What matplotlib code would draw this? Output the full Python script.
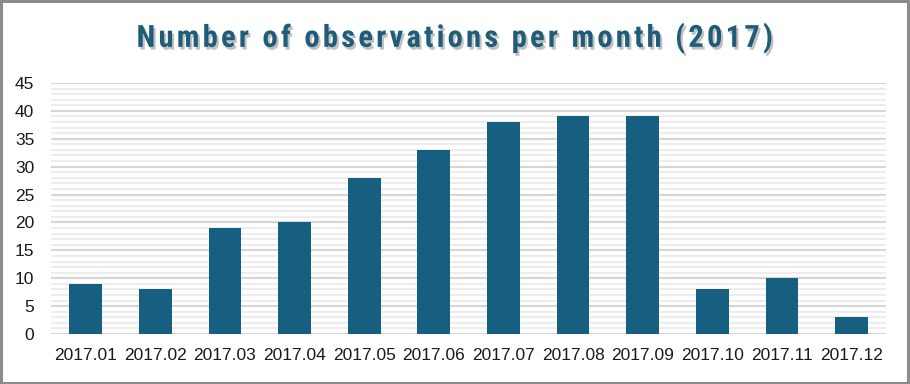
import matplotlib.pyplot as plt
import matplotlib.patheffects as pe
from matplotlib.patches import Rectangle
from matplotlib.ticker import MultipleLocator

months = ['2017.01', '2017.02', '2017.03', '2017.04', '2017.05', '2017.06',
          '2017.07', '2017.08', '2017.09', '2017.10', '2017.11', '2017.12']
counts = [9, 8, 19, 20, 28, 33, 38, 39, 39, 8, 10, 3]
title_text = 'Number of observations per month (2017)'

bar_color = '#175F80'

fig = plt.figure(figsize=(9.1, 3.84), dpi=100)
ax = fig.add_axes([0.056, 0.130, 0.918, 0.654])

x = range(len(months))
ax.bar(x, counts, width=0.47, color=bar_color, zorder=3)

ax.set_xlim(-0.5, len(months) - 0.5)
ax.set_ylim(0, 45)
ax.yaxis.set_major_locator(MultipleLocator(5))
ax.yaxis.set_minor_locator(MultipleLocator(1))
ax.grid(axis='y', which='major', color='#D6D6D6', linewidth=1.5, zorder=0)
ax.grid(axis='y', which='minor', color='#EAEAEA', linewidth=1.2, zorder=0)
ax.set_xticks(list(x))
ax.set_xticklabels(months, fontsize=12.5, family='Liberation Sans', color='#1A1A1A')
for lbl in ax.get_yticklabels():
    lbl.set_fontsize(12.5)
    lbl.set_family('Liberation Sans')
    lbl.set_color('#1A1A1A')
ax.tick_params(axis='both', which='both', length=0)
ax.tick_params(axis='x', pad=10)
ax.tick_params(axis='y', pad=12)
for s in ax.spines.values():
    s.set_visible(False)

# wide letter tracking like the original: hair spaces between characters
spaced = '\u200a'.join(title_text)
title = fig.text(0.5, 0.878, spaced,
                 ha='center', va='baseline', fontsize=22, fontweight='bold',
                 family=['Roboto Condensed', 'DejaVu Sans'], color='#1E5C7A')
title.set_path_effects([pe.SimplePatchShadow(offset=(1.5, -2), shadow_rgbFace='#999999', alpha=0.6),
                        pe.Normal()])

# grey border around the chart
fig.patches.append(Rectangle((0.001, 0.002), 0.997, 0.995, transform=fig.transFigure,
                             fill=False, edgecolor='#8C8C8C', linewidth=2.2))

fig.savefig('out.png', dpi=100)
